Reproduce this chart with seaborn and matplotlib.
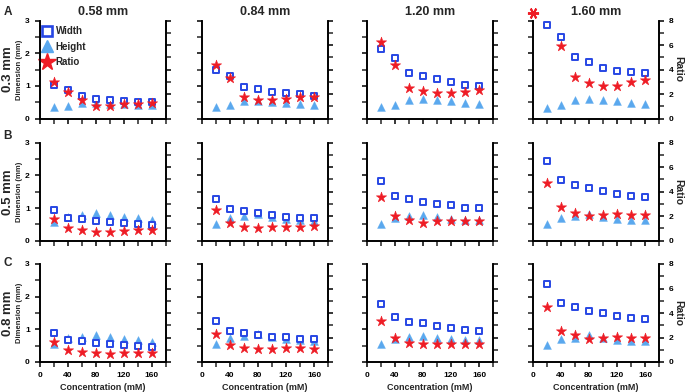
import numpy as np
import pandas as pd
import matplotlib
matplotlib.use("Agg")
import matplotlib.pyplot as plt
import seaborn as sns
from matplotlib.lines import Line2D
from matplotlib.ticker import MultipleLocator

conc = [20, 40, 60, 80, 100, 120, 140, 160]
nozzles = ["0.58 mm", "0.84 mm", "1.20 mm", "1.60 mm"]
rows = ["0.3 mm", "0.5 mm", "0.8 mm"]
letters = ["A", "B", "C"]

# row A (0.3 mm), one list per nozzle
width_03 = [[1.03, 0.88, 0.68, 0.61, 0.57, 0.53, 0.52, 0.50],
            [1.50, 1.29, 0.97, 0.89, 0.82, 0.78, 0.76, 0.69],
            [2.13, 1.85, 1.39, 1.31, 1.21, 1.12, 1.04, 1.01],
            [2.87, 2.51, 1.89, 1.73, 1.55, 1.46, 1.42, 1.38]]
height_03 = [[0.35, 0.39, 0.48, 0.46, 0.44, 0.44, 0.42, 0.40],
             [0.35, 0.40, 0.55, 0.55, 0.50, 0.46, 0.43, 0.40],
             [0.35, 0.42, 0.56, 0.60, 0.56, 0.54, 0.47, 0.43],
             [0.33, 0.42, 0.56, 0.60, 0.58, 0.55, 0.47, 0.43]]
ratio_03 = [[3.00, 2.19, 1.50, 1.01, 1.01, 1.15, 1.17, 1.23],
            [4.39, 3.31, 1.76, 1.54, 1.54, 1.63, 1.73, 1.76],
            [6.23, 4.36, 2.49, 2.22, 2.09, 2.09, 2.14, 2.30],
            [np.nan, 5.88, 3.36, 2.90, 2.68, 2.68, 2.95, 3.17]]

# row B (0.5 mm)
width_05 = [[0.93, 0.70, 0.65, 0.60, 0.58, 0.53, 0.51, 0.47],
            [1.27, 0.98, 0.91, 0.84, 0.79, 0.74, 0.70, 0.69],
            [1.83, 1.37, 1.28, 1.20, 1.13, 1.08, 1.01, 1.00],
            [2.43, 1.85, 1.72, 1.61, 1.51, 1.44, 1.37, 1.35]]
height_05 = [[0.56, 0.73, 0.79, 0.84, 0.79, 0.73, 0.68, 0.63],
             [0.51, 0.69, 0.77, 0.82, 0.74, 0.67, 0.64, 0.60],
             [0.51, 0.69, 0.75, 0.80, 0.72, 0.65, 0.62, 0.64],
             [0.51, 0.69, 0.75, 0.82, 0.72, 0.67, 0.64, 0.64]]
ratio_05 = [[1.74, 1.01, 0.87, 0.73, 0.73, 0.79, 0.84, 0.84],
            [2.47, 1.42, 1.15, 1.04, 1.10, 1.15, 1.15, 1.18],
            [3.56, 2.03, 1.73, 1.48, 1.59, 1.64, 1.59, 1.59],
            [4.71, 2.74, 2.27, 2.00, 2.11, 2.16, 2.11, 2.11]]

# row C (0.8 mm)
width_08 = [[0.89, 0.66, 0.63, 0.59, 0.54, 0.53, 0.49, 0.46],
            [1.25, 0.96, 0.89, 0.84, 0.78, 0.76, 0.71, 0.69],
            [1.77, 1.37, 1.22, 1.19, 1.10, 1.04, 0.99, 0.96],
            [2.38, 1.80, 1.69, 1.55, 1.49, 1.41, 1.35, 1.32]]
height_08 = [[0.56, 0.74, 0.77, 0.84, 0.77, 0.71, 0.67, 0.61],
             [0.56, 0.74, 0.81, 0.86, 0.77, 0.71, 0.67, 0.64],
             [0.54, 0.71, 0.77, 0.81, 0.74, 0.69, 0.68, 0.67],
             [0.52, 0.71, 0.74, 0.82, 0.74, 0.67, 0.65, 0.65]]
ratio_08 = [[1.65, 0.95, 0.81, 0.70, 0.68, 0.76, 0.76, 0.76],
            [2.32, 1.35, 1.14, 1.03, 1.08, 1.14, 1.11, 1.08],
            [3.32, 1.97, 1.57, 1.49, 1.51, 1.51, 1.49, 1.49],
            [4.46, 2.51, 2.24, 1.89, 2.00, 2.05, 2.00, 2.00]]

widths = [width_03, width_05, width_08]
heights = [height_03, height_05, height_08]
ratios = [ratio_03, ratio_05, ratio_08]

recs = []
for i, r in enumerate(rows):
    for j, n in enumerate(nozzles):
        for k, c in enumerate(conc):
            recs.append({"row": r, "nozzle": n, "conc": c,
                         "width": widths[i][j][k], "height": heights[i][j][k],
                         "ratio": ratios[i][j][k]})
df = pd.DataFrame(recs)

sns.set_style("ticks")
plt.rcParams['font.family'] = ['Liberation Sans', 'DejaVu Sans']
plt.rcParams['font.weight'] = 'bold'

blue = "#2746e4"
light = "#5aa8ee"
red = "#ee1c25"

W, H = 685, 392
fig = plt.figure(figsize=(6.85, 3.92), dpi=100)
col_left = [39.5, 201.7, 366.7, 532.7]
row_top = [20.5, 142.7, 264.0]
letter_y = [12, 136, 263]
aw, ah = 126.5, 98.0

tick_kw = dict(direction="out", width=1.1, colors="black", labelsize=6)

for i, r in enumerate(rows):
    for j, n in enumerate(nozzles):
        ax = fig.add_axes([col_left[j] / W, 1 - (row_top[i] + ah) / H, aw / W, ah / H])
        sub = df[(df.row == r) & (df.nozzle == n)]
        sns.scatterplot(data=sub, x="conc", y="height", ax=ax, marker="^", s=32,
                        color=light, edgecolor=light, linewidth=0.3, zorder=2)
        sns.scatterplot(data=sub, x="conc", y="width", ax=ax, marker="s", s=22,
                        color=blue, facecolor="white", edgecolor=blue, linewidth=1.4, zorder=3)
        ax2 = ax.twinx()
        sns.scatterplot(data=sub, x="conc", y="ratio", ax=ax2, marker="*", s=60,
                        color=red, edgecolor=red, linewidth=0.4, zorder=4)

        ax.set_xlim(0, 180)
        ax.set_ylim(0, 3)
        ax2.set_ylim(0, 8)
        ax.xaxis.set_major_locator(MultipleLocator(40))
        ax.xaxis.set_minor_locator(MultipleLocator(20))
        ax.yaxis.set_major_locator(MultipleLocator(1))
        ax.yaxis.set_minor_locator(MultipleLocator(0.5))
        ax2.yaxis.set_major_locator(MultipleLocator(2))
        ax2.yaxis.set_minor_locator(MultipleLocator(1))
        for a in (ax, ax2):
            a.spines["top"].set_visible(False)
            for s in ("left", "right", "bottom"):
                a.spines[s].set_linewidth(1.2)
                a.spines[s].set_color("black")
            a.tick_params(which="major", length=3.5, **tick_kw)
            a.tick_params(which="minor", length=3.5, width=1.1, direction="out")
        ax.set_xlabel("")
        ax.set_ylabel("")
        ax2.set_ylabel("")
        for lab in ax.get_xticklabels() + ax.get_yticklabels() + ax2.get_yticklabels():
            lab.set_fontweight("bold")

        if i < 2:
            ax.tick_params(labelbottom=False)
        else:
            ax.set_xlabel("Concentration (mM)", fontsize=6.5, fontweight="bold", labelpad=3)
        if j > 0:
            ax.tick_params(labelleft=False)
        else:
            ax.set_ylabel("Dimension (mm)", fontsize=5.5, fontweight="bold")
            ax.yaxis.set_label_coords((23 - col_left[0]) / aw, 0.5)
        if j < 3:
            ax2.tick_params(labelright=False)

        if i == 0:
            ax.set_title(n, fontsize=9, fontweight="bold", pad=4)
        if i == 0 and j == 3:
            # off-scale ratio mark
            ax.plot([0], [1.077], marker=(6, 2, 90), ms=8, mew=1.4, color=red,
                    transform=ax.transAxes, clip_on=False)
        if i == 0 and j == 0:
            handles = [Line2D([], [], ls="", marker="s", ms=6.5, mfc="white", mec=blue, mew=1.9),
                       Line2D([], [], ls="", marker="^", ms=9, color=light),
                       Line2D([], [], ls="", marker="*", ms=13, color=red)]
            ax.legend(handles, ["Width", "Height", "Ratio"], loc="upper left",
                      bbox_to_anchor=(-0.01, 0.98), frameon=False, handlelength=1.0,
                      handletextpad=0.4, labelspacing=0.55, borderaxespad=0,
                      prop={"weight": "bold", "size": 7})

    yc = 1 - (row_top[i] + ah / 2) / H
    fig.text(8 / W, yc, r, rotation=90, ha="center", va="center", fontsize=9.5, fontweight="bold")
    fig.text(8 / W, 1 - letter_y[i] / H, letters[i], ha="center", va="center",
             fontsize=8.5, fontweight="bold")
    # right axis title, one per row
    fig.text(678 / W, yc, "Ratio", rotation=270, ha="center", va="center",
             fontsize=7.5, fontweight="bold")

fig.savefig("out.png", dpi=100)
